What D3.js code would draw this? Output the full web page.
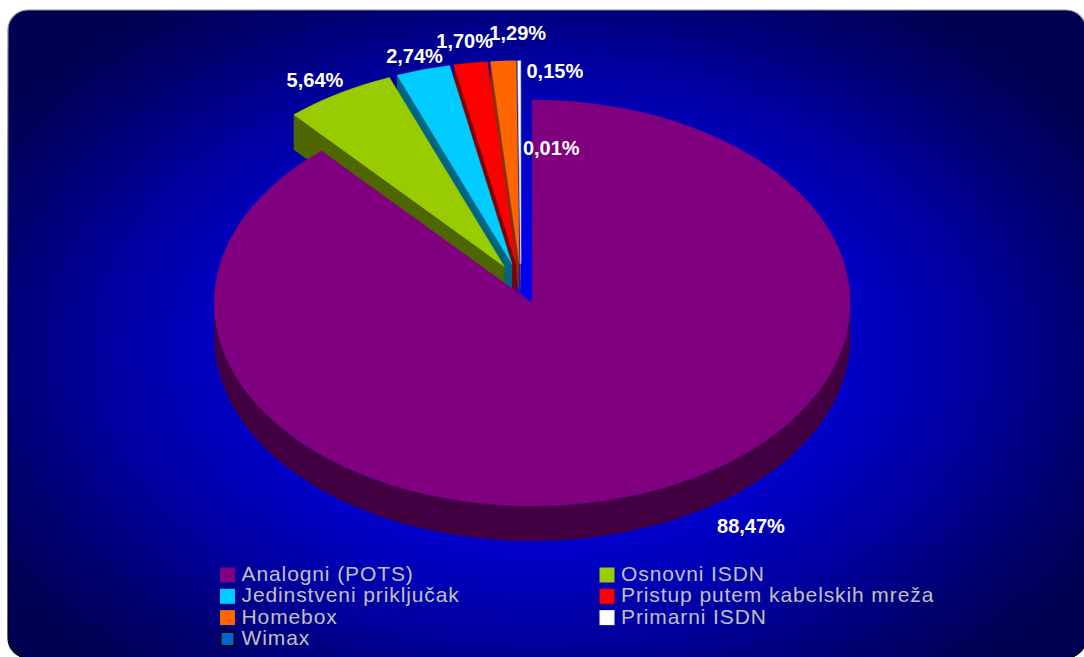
<!DOCTYPE html>
<html>
<head>
<meta charset="utf-8">
<script src="https://cdn.jsdelivr.net/npm/d3@7"></script>
<style>
  html, body { margin: 0; padding: 0; background: #ffffff; }
  svg { display: block; }
</style>
</head>
<body>
<svg id="chart" width="1084" height="657"></svg>
<script>
// Access types (share of lines, %)
const categories = [
  "Analogni (POTS)",
  "Osnovni ISDN",
  "Jedinstveni priključak",
  "Pristup putem kabelskih mreža",
  "Homebox",
  "Primarni ISDN",
  "Wimax"
];
const shares = [88.47, 5.64, 2.74, 1.70, 1.29, 0.15, 0.01];

// Top-face and side colours of each slice
const topColors  = ["#800080", "#99cc00", "#00ccff", "#ff0000", "#ff6600", "#ffffff", "#0066cc"];
const sideColors = ["#420042", "#4d6600", "#006680", "#800000", "#803300", "#9a9a9a", "#003366"];
const swatchOutline = ["none", "none", "none", "none", "none", "none", "#000000"];

// Label nudges (px) away from the slice rim, to keep small labels apart
const labelShift = [[106, 40], [-24, -6.5], [-8.5, -6.3], [-6, -15], [14.4, -21], [35.7, 17.6], [30.4, 94.3]];

const W = 1084, H = 657;
const svg = d3.select("#chart");
const defs = svg.append("defs");

// Panel background: bright blue centre fading to navy (elliptical falloff)
const gcx = 540, gcy = 350;
const bg = defs.append("radialGradient")
  .attr("id", "bgGrad")
  .attr("gradientUnits", "userSpaceOnUse")
  .attr("cx", gcx).attr("cy", gcy).attr("r", 640)
  .attr("gradientTransform", `translate(${gcx},${gcy}) scale(1,0.66) translate(${-gcx},${-gcy})`);
[[0, "#0000ff"], [0.3, "#0000e2"], [0.5, "#0000c4"], [0.7, "#00009a"], [0.85, "#000072"], [1, "#000052"]]
  .forEach(([o, c]) => bg.append("stop").attr("offset", o).attr("stop-color", c));

const border = defs.append("linearGradient")
  .attr("id", "borderGrad").attr("x1", 0).attr("y1", 0).attr("x2", 0).attr("y2", 1);
border.append("stop").attr("offset", 0).attr("stop-color", "#8a8ab8");
border.append("stop").attr("offset", 0.5).attr("stop-color", "#000040");
border.append("stop").attr("offset", 1).attr("stop-color", "#000000");

svg.append("rect")
  .attr("x", 8).attr("y", 10)
  .attr("width", 1078).attr("height", 648)
  .attr("rx", 20).attr("ry", 20)
  .attr("fill", "url(#bgGrad)")
  .attr("stroke", "url(#borderGrad)")
  .attr("stroke-width", 1.2);

// 3D pie geometry
const cx0 = 521, cy0 = 284;      // centre before explosion
const rx = 318, ry = 203;        // ellipse radii of the top face
const depth = 35;                // height of the side walls
const explode = 0.1;             // fraction of radius each slice is pulled out

const pie = d3.pie().sort(null).value(d => d).startAngle(0).endAngle(2 * Math.PI);
const arcs = pie(shares);

arcs.forEach((a, i) => {
  const m = (a.startAngle + a.endAngle) / 2;
  a.index = i;
  a.mid = m;
  a.ox = cx0 + explode * rx * Math.sin(m);
  a.oy = cy0 - explode * ry * Math.cos(m);
});

const pt = (a, ang, dy = 0) => [a.ox + rx * Math.sin(ang), a.oy - ry * Math.cos(ang) + dy];

function topPath(a) {
  const p0 = pt(a, a.startAngle), p1 = pt(a, a.endAngle);
  const large = (a.endAngle - a.startAngle) > Math.PI ? 1 : 0;
  return `M${a.ox},${a.oy}L${p0[0]},${p0[1]}A${rx},${ry} 0 ${large} 1 ${p1[0]},${p1[1]}Z`;
}

function outerWallPath(a) {
  const s = Math.max(a.startAngle, Math.PI / 2);
  const e = Math.min(a.endAngle, 3 * Math.PI / 2);
  if (e <= s) return null;
  const p0 = pt(a, s), p1 = pt(a, e), q1 = pt(a, e, depth), q0 = pt(a, s, depth);
  const large = (e - s) > Math.PI ? 1 : 0;
  return `M${p0[0]},${p0[1]}A${rx},${ry} 0 ${large} 1 ${p1[0]},${p1[1]}` +
         `L${q1[0]},${q1[1]}A${rx},${ry} 0 ${large} 0 ${q0[0]},${q0[1]}Z`;
}

function radialWallPath(a, ang) {
  const p = pt(a, ang), q = pt(a, ang, depth);
  return `M${a.ox},${a.oy}L${p[0]},${p[1]}L${q[0]},${q[1]}L${a.ox},${a.oy + depth}Z`;
}

const pieG = svg.append("g").attr("class", "pie");

// Paint back slices first (those nearest the 12 o'clock seam), the large front slice last
const order = arcs.slice(1).reverse().concat([arcs[0]]);
order.forEach(a => {
  const g = pieG.append("g");
  const side = sideColors[a.index];
  const ow = outerWallPath(a);
  if (ow) g.append("path").attr("d", ow).attr("fill", side);
  if (Math.sin(a.startAngle) < -1e-9)
    g.append("path").attr("d", radialWallPath(a, a.startAngle)).attr("fill", side);
  if (Math.sin(a.endAngle) > 1e-9)
    g.append("path").attr("d", radialWallPath(a, a.endAngle)).attr("fill", side);
  g.append("path").attr("d", topPath(a)).attr("fill", topColors[a.index])
    .attr("stroke", topColors[a.index]).attr("stroke-width", 0.4);
});

// Percentage labels
const fmt = v => d3.format(".2f")(v).replace(".", ",") + "%";
const labelG = svg.append("g").attr("class", "labels");
arcs.forEach(a => {
  const p = pt(a, a.mid);
  labelG.append("text")
    .attr("x", p[0] + labelShift[a.index][0])
    .attr("y", p[1] + labelShift[a.index][1])
    .attr("text-anchor", "middle")
    .attr("font-family", "'Liberation Sans', Arial, sans-serif")
    .attr("font-weight", "bold")
    .attr("font-size", 20)
    .attr("fill", "#ffffff")
    .text(fmt(a.data));
});

// Legend: two columns, filled row by row
const legendG = svg.append("g").attr("class", "legend");
const colX = [220, 599.5];
const rowY0 = 581, rowStep = 21.3;
categories.forEach((name, i) => {
  const col = i % 2, row = Math.floor(i / 2);
  const x = colX[col], y = rowY0 + row * rowStep;
  const outlined = swatchOutline[i] !== "none";
  legendG.append("rect")
    .attr("x", x + (outlined ? 0.75 : 0)).attr("y", y - 13.5 + (outlined ? 0.75 : 0))
    .attr("width", outlined ? 13.5 : 15).attr("height", outlined ? 13.5 : 15)
    .attr("fill", topColors[i])
    .attr("stroke", swatchOutline[i])
    .attr("stroke-width", outlined ? 1.5 : 0);
  legendG.append("text")
    .attr("x", x + 21.5).attr("y", y)
    .attr("font-family", "'Liberation Sans', Arial, sans-serif")
    .attr("font-size", 21)
    .attr("letter-spacing", 0.9)
    .attr("fill", "#c0c0c0")
    .text(name);
});
</script>
</body>
</html>
